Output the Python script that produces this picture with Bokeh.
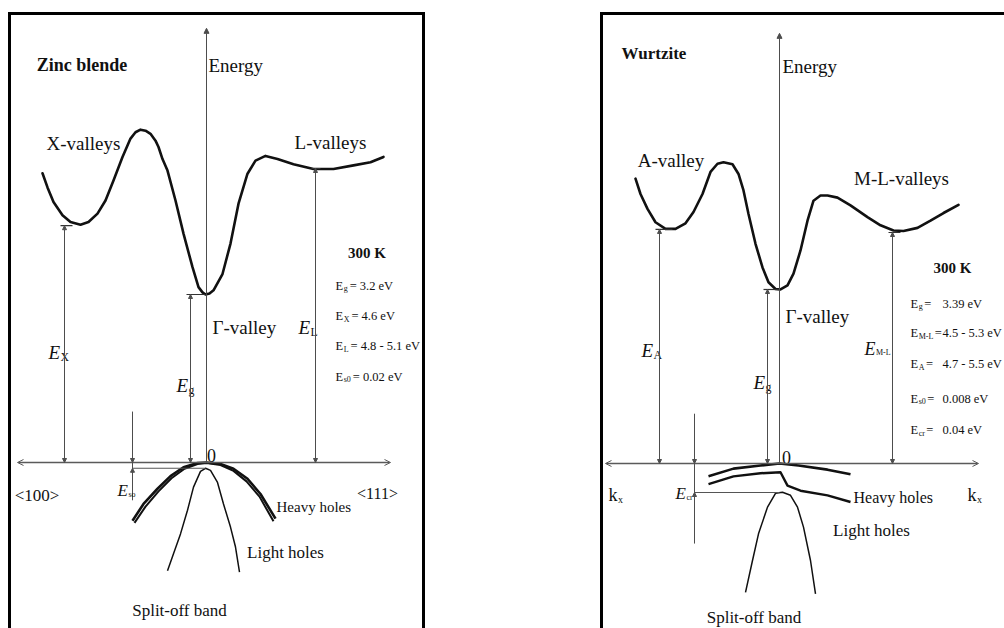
from bokeh.plotting import figure
from bokeh.models import Range1d, Arrow, NormalHead, OpenHead, ColumnDataSource
from bokeh.layouts import row
from bokeh.core.properties import value
from bokeh.embed import file_html
from bokeh.resources import INLINE

# ======================= DATA =======================
# k in arbitrary units (Gamma point = 0), E in eV (valence-band top = 0)

# ---- Zinc blende ----
zb_cb_k = [-1.64, -1.59, -1.53, -1.44, -1.36, -1.26, -1.18, -1.09, -1.01, -0.93, -0.84, -0.76,
           -0.71, -0.66, -0.61, -0.56, -0.51, -0.48, -0.44, -0.39, -0.31, -0.23, -0.14, -0.08,
           -0.04, -0.01, 0.03, 0.07, 0.16, 0.24, 0.32, 0.41, 0.49, 0.59, 0.71, 0.87, 1.07,
           1.27, 1.47, 1.64, 1.77]
zb_cb_E = [5.51, 5.24, 4.96, 4.71, 4.58, 4.53, 4.58, 4.74, 4.99, 5.37, 5.82, 6.17,
           6.29, 6.34, 6.32, 6.26, 6.13, 6.01, 5.78, 5.56, 4.99, 4.36, 3.72, 3.34,
           3.24, 3.20, 3.22, 3.28, 3.59, 4.17, 4.93, 5.50, 5.75, 5.84, 5.78, 5.68, 5.59,
           5.59, 5.66, 5.72, 5.82]
zb_hh_k = [-0.74, -0.63, -0.49, -0.36, -0.23, -0.09, 0.0, 0.14, 0.27, 0.41, 0.54, 0.69]
zb_hh_E = [-1.11, -0.79, -0.50, -0.26, -0.09, -0.01, 0.0, -0.03, -0.12, -0.31, -0.60, -1.07]
zb_lh_k = [-0.72, -0.61, -0.48, -0.35, -0.22, -0.09, 0.0, 0.14, 0.27, 0.40, 0.53, 0.67]
zb_lh_E = [-1.15, -0.84, -0.55, -0.30, -0.12, -0.03, -0.01, -0.05, -0.16, -0.36, -0.65, -1.12]
zb_so_k = [-0.39, -0.33, -0.26, -0.19, -0.13, -0.06, -0.01, 0.04, 0.11, 0.17, 0.24, 0.29, 0.33]
zb_so_E = [-2.06, -1.74, -1.36, -0.91, -0.47, -0.17, -0.11, -0.15, -0.38, -0.79, -1.23, -1.61, -2.09]
zb_valley_sub = ["X", "g", "L"]
zb_valley_k = [-1.42, -0.16, 1.09]
zb_valley_E = [4.51, 3.20, 5.60]
zb_valley_min_k = [-1.34, -0.01, 1.14]
zb_split_k = -0.74
zb_split_E = -0.11
zb_stat_sub = ["g", "X", "L", "s0"]
zb_stat_val = ["3.2 eV", "4.6 eV", "4.8 - 5.1 eV", "0.02 eV"]

# ---- Wurtzite ----
wz_cb_k = [-1.44, -1.39, -1.32, -1.24, -1.14, -1.04, -0.94, -0.86, -0.77, -0.69, -0.62, -0.56,
           -0.47, -0.41, -0.36, -0.31, -0.24, -0.17, -0.11, -0.04, 0.01, 0.08, 0.14, 0.21,
           0.28, 0.34, 0.41, 0.48, 0.58, 0.71, 0.88, 1.01, 1.14, 1.24, 1.38, 1.51, 1.64, 1.79]
wz_cb_E = [5.55, 5.25, 4.96, 4.70, 4.57, 4.57, 4.68, 4.90, 5.25, 5.68, 5.84, 5.87,
           5.83, 5.64, 5.32, 4.86, 4.28, 3.82, 3.53, 3.40, 3.39, 3.47, 3.70, 4.15,
           4.73, 5.12, 5.22, 5.22, 5.18, 5.03, 4.80, 4.64, 4.54, 4.53, 4.59, 4.73, 4.88, 5.04]
wz_hh_k = [-0.71, -0.46, -0.19, 0.0, 0.19, 0.48, 0.71]
wz_hh_E = [-0.25, -0.10, -0.04, 0.0, -0.04, -0.12, -0.21]
wz_lh_k = [-0.71, -0.46, -0.19, 0.01, 0.08, 0.21, 0.48, 0.71]
wz_lh_E = [-0.40, -0.25, -0.19, -0.17, -0.43, -0.53, -0.62, -0.75]
wz_so_k = [-0.34, -0.27, -0.21, -0.12, -0.04, 0.03, 0.11, 0.18, 0.24, 0.31, 0.36]
wz_so_E = [-2.51, -1.89, -1.37, -0.85, -0.58, -0.56, -0.62, -0.85, -1.24, -1.89, -2.54]
wz_valley_sub = ["A", "g", "M-L"]
wz_valley_k = [-1.20, -0.12, 1.13]
wz_valley_E = [4.56, 3.39, 4.50]
wz_valley_min_k = [-1.07, 0.0, 1.21]
wz_split_k = -0.85
wz_split_E = -0.565
wz_stat_sub = ["g", "M-L", "A", "s0", "cr"]
wz_stat_val = ["3.39 eV", "4.5 - 5.3 eV", "4.7 - 5.5 eV", "0.008 eV", "0.04 eV"]

# ======================= STYLE / HELPERS =======================
INK = "#111111"
AXIS = "#4d4d4d"
FONT = value("Liberation Serif")

WID = {' ': .25, '=': .564, '.': .25, '-': .333, 'e': .444, 'V': .722, 'E': .611, 'K': .722,
       'X': .722, 'L': .611, 'A': .722, 'M': .889, 's': .389, 'o': .5, 'g': .5, 'c': .444,
       'r': .333, 'x': .5, 'k': .5, 'y': .5}


def tw(s, size):
    return sum(WID.get(c, .5) for c in s) * size


def make_fig(width, x0, x1, y0, y1):
    p = figure(width=width, height=628, x_range=Range1d(x0, x1), y_range=Range1d(y0, y1),
               output_backend="svg", toolbar_location=None, min_border=0,
               x_axis_location=None, y_axis_location=None, outline_line_color=None,
               background_fill_color="white", border_fill_color="white")
    p.grid.visible = False
    return p


def label(p, x, y, txt, size, style="normal", align="left"):
    p.text(x=[x], y=[y], text=[txt], text_font=FONT, text_font_size=f"{size}px",
           text_font_style=style, text_align=align, text_baseline="alphabetic", text_color=INK)


def centered(p, x, y, txt, size, style="normal"):
    label(p, x, y, txt, size, style, "center")


def rich(p, x, y, pieces):
    # pieces: (text, size, style, dy_px, gap_px_before)
    off = 0.0
    for t, s, st, dy, gap in pieces:
        off += gap
        p.text(x=[x], y=[y], text=[t], x_offset=off, y_offset=dy, text_font=FONT,
               text_font_size=f"{s}px", text_font_style=st, text_align="left",
               text_baseline="alphabetic", text_color=INK)
        off += tw(t, s)


def esub(sub, size, italic=True, tail="", sub_size=None, gap=2.0):
    ss = sub_size if sub_size else round(size * 0.62, 1)
    parts = [("E", size, "italic" if italic else "normal", 0, 0),
             (sub, ss, "normal", round(size * 0.24, 1), 0.5)]
    if tail:
        parts.append((tail, size, "normal", 0, gap))
    return parts


def head(size, color, kind="normal"):
    if kind == "open":
        return OpenHead(size=size, line_color=color, line_width=1)
    return NormalHead(size=size, line_color=color, fill_color=color, line_width=1)


def arrow(p, x0, y0, x1, y1, start=True, end=True, size=5, width=1.0, color=AXIS, kind="normal"):
    src = ColumnDataSource(dict(x0=[x0], y0=[y0], x1=[x1], y1=[y1]))
    p.add_layout(Arrow(x_start="x0", y_start="y0", x_end="x1", y_end="y1", source=src,
                       start=head(size, color, kind) if start else None,
                       end=head(size, color, kind) if end else None,
                       line_color=color, line_width=width))


def panel(p, cb, hh, lh, so, vk, vE, vmin, box, kaxis, e_top, split, split_end_k,
          split_low, light_w):
    kl, kr, top = box
    p.line(x=[kl, kl, kr, kr], y=[-6, top, top, -6], line_width=3, line_color="black",
           line_join="miter")
    arrow(p, kaxis[0], 0, kaxis[1], 0, start=True, end=True, size=6, width=1.6,
          color="#5a5a5a", kind="open")
    arrow(p, 0, 0, 0, e_top, start=False, end=True, size=5, width=1, color=AXIS)
    p.line(x=cb[0], y=cb[1], line_width=2.6, line_color=INK, line_join="round", line_cap="round")
    p.line(x=hh[0], y=hh[1], line_width=2.6, line_color=INK, line_join="round")
    p.line(x=lh[0], y=lh[1], line_width=light_w, line_color=INK, line_join="round")
    p.line(x=so[0], y=so[1], line_width=1.5, line_color=INK, line_join="round")
    for k, e, km in zip(vk, vE, vmin):
        arrow(p, k, 0, k, e, size=4, width=1, color=AXIS)
        p.segment(x0=[k - 0.04], y0=[e], x1=[max(km, k + 0.05)], y1=[e], line_width=1.2,
                  line_color="#333333")
    sk, se = split
    p.segment(x0=[sk], y0=[0.97], x1=[sk], y1=[split_low], line_width=1, line_color=AXIS)
    arrow(p, sk, 0.45, sk, 0, start=False, end=True, size=4, width=1, color=AXIS)
    arrow(p, sk, se - 0.45, sk, se, start=False, end=True, size=4, width=1, color=AXIS)
    p.segment(x0=[sk], y0=[se], x1=[split_end_k], y1=[se], line_width=1.2, line_color="#555555")


# ======================= ZINC BLENDE =======================
p1 = make_fig(512, -2.06, 3.06, -3.162, 8.8)
panel(p1, (zb_cb_k, zb_cb_E), (zb_hh_k, zb_hh_E), (zb_lh_k, zb_lh_E), (zb_so_k, zb_so_E),
      zb_valley_k, zb_valley_E, zb_valley_min_k,
      box=(-1.97, 2.17, 8.552), kaxis=(-1.89, 1.84), e_top=8.27,
      split=(zb_split_k, zb_split_E), split_end_k=-0.01, split_low=-0.72, light_w=2.0)

centered(p1, -1.245, 7.562, "Zinc blende", 18, "bold")
label(p1, 0.02, 7.562, "Energy", 19)
centered(p1, -1.23, 6.076, "X-valleys", 19)
centered(p1, 1.24, 6.095, "L-valleys", 19)
label(p1, 0.06, 2.571, "Γ-valley", 19)
for sub, k, e in zip(zb_valley_sub, [-1.58, -0.30, 0.92], [2.095, 1.467, 2.571]):
    rich(p1, k, e, esub(sub, 19))
rich(p1, -0.89, -0.533, esub("so", 17, sub_size=8))
centered(p1, 0.05, 0.133, "0", 18)
centered(p1, -1.695, -0.629, "<100>", 17)
centered(p1, 1.71, -0.59, "<111>", 16)
label(p1, 0.70, -0.857, "Heavy holes", 15)
centered(p1, 0.79, -1.714, "Light holes", 17)
centered(p1, -0.27, -2.819, "Split-off band", 17)
centered(p1, 1.605, 3.981, "300 K", 15, "bold")
for sub, val, e in zip(zb_stat_sub, zb_stat_val, [3.371, 2.781, 2.21, 1.638]):
    rich(p1, 1.29, e, esub(sub, 12.5, italic=False, tail="= " + val, sub_size=8))

# ======================= WURTZITE =======================
p2 = make_fig(492, -2.67, 2.25, -3.2145, 9.02)
panel(p2, (wz_cb_k, wz_cb_E), (wz_hh_k, wz_hh_E), (wz_lh_k, wz_lh_E), (wz_so_k, wz_so_E),
      wz_valley_k, wz_valley_E, wz_valley_min_k,
      box=(-1.78, 3.0, 8.767), kaxis=(-1.74, 1.99), e_top=8.38,
      split=(wz_split_k, wz_split_E), split_end_k=0.0, split_low=-1.56, light_w=2.4)

centered(p2, -1.255, 7.988, "Wurtzite", 17, "bold")
label(p2, 0.03, 7.734, "Energy", 19)
centered(p2, -1.085, 5.903, "A-valley", 19)
centered(p2, 1.22, 5.552, "M-L-valleys", 19)
label(p2, 0.06, 2.864, "Γ-valley", 19)
rich(p2, -1.38, 2.201, esub("A", 19))
rich(p2, -0.26, 1.578, esub("g", 19))
rich(p2, 0.85, 2.240, esub("M-L", 18, sub_size=8))
centered(p2, 0.07, 0.117, "0", 18)
for kx in (-1.71, 1.88):
    rich(p2, kx, -0.623, [("k", 18, "normal", 0, 0), ("x", 10, "normal", 4, 0.5)])
rich(p2, -1.04, -0.584, esub("cr", 17, sub_size=8))
label(p2, 0.74, -0.662, "Heavy holes", 16)
centered(p2, 0.92, -1.305, "Light holes", 17)
centered(p2, -0.255, -3.0, "Split-off band", 17)
centered(p2, 1.73, 3.799, "300 K", 15, "bold")
for sub, val, e in zip(wz_stat_sub, wz_stat_val, [3.117, 2.533, 1.929, 1.266, 0.643]):
    rich(p2, 1.31, e, esub(sub, 12.5, italic=False, tail="=", sub_size=8, gap=1.5))
    p2.text(x=[1.31], y=[e], text=[val], x_offset=32, text_font=FONT, text_font_size="12.5px",
            text_align="left", text_baseline="alphabetic", text_color=INK)

layout = row(p1, p2)
open("out.html", "w").write(file_html(layout, INLINE))
